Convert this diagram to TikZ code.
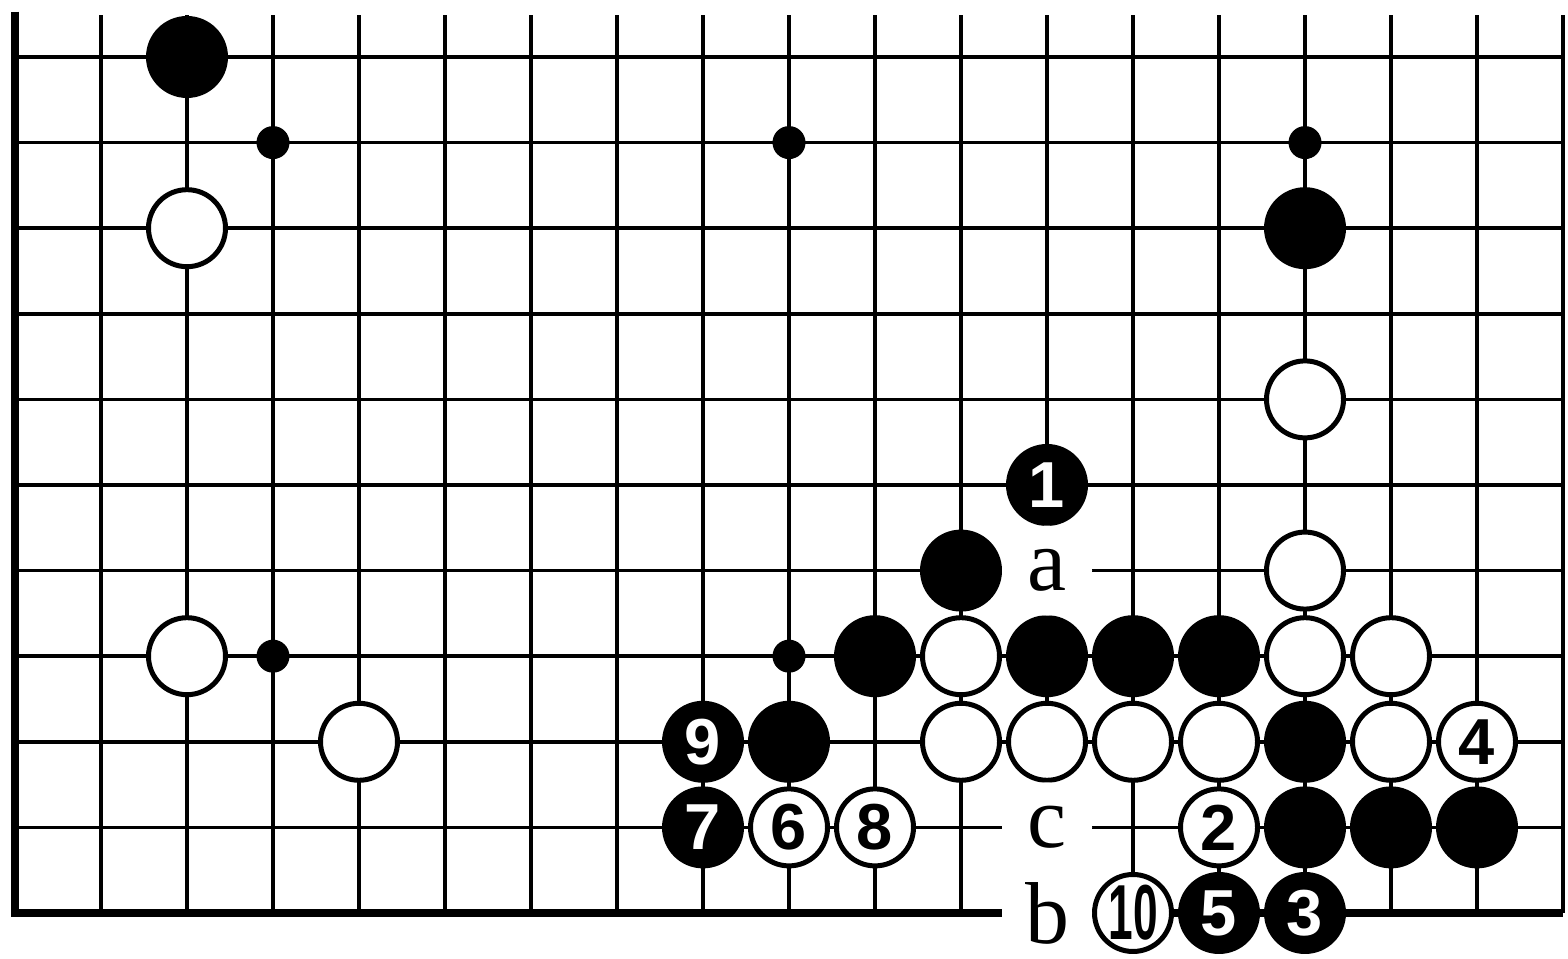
\documentclass[tikz,border=0pt]{standalone}
\usepackage{fontspec}
\usepackage{graphicx}
\usepackage{tikz}
\usetikzlibrary{positioning}
\newfontfamily\numfont{Liberation Sans}
\newfontfamily\letterfont{Liberation Serif}
\newcommand{\movefont}{\numfont\bfseries\fontsize{37}{37}\selectfont}
\newcommand{\pointfont}{\letterfont\fontsize{50}{50}\selectfont}

\begin{document}
\begin{tikzpicture}[
  x=1.72cm, y=1.712cm,
  gridline/.style={line width=0.072cm},
  edgeline/.style={line width=0.16cm,line join=miter},
  blackstone/.style={circle,fill=black,minimum size=1.64cm,inner sep=0pt,
                     text=white,font=\movefont},
  whitestone/.style={circle,draw=black,fill=white,line width=0.1cm,
                     minimum size=1.54cm,inner sep=0pt,font=\movefont},
  starpoint/.style={circle,fill=black,minimum size=0.66cm,inner sep=0pt},
  pointlabel/.style={circle,fill=white,minimum size=1.8cm,inner sep=0pt,
                     font=\pointfont}
]
  \useasboundingbox (-0.30cm,-0.92cm) rectangle (31.06cm,18.26cm);
  % board
  \foreach \row in {0,...,10}
    \draw[gridline] (0,\row) -- (18,\row);
  \foreach \col in {1,...,18}
    \draw[gridline] (\col,0) -- (\col,10.49);
  \draw[edgeline] (0,10.53) -- (0,0) -- (18,0);
  \foreach \c/\r in {3/9,9/9,15/9,3/3,9/3}
    \node[starpoint] (star-\c-\r) at (\c,\r) {};
  % stones on the board
  \foreach \c/\r in {2/10,15/8,11/4,10/3,12/3,13/3,14/3,9/2,15/2,15/1,16/1,17/1}
    \node[blackstone] (b-\c-\r) at (\c,\r) {};
  \foreach \c/\r in {2/8,15/6,15/4,2/3,11/3,15/3,16/3,4/2,11/2,12/2,13/2,14/2,16/2}
    \node[whitestone] (w-\c-\r) at (\c,\r) {};
  % moves
  \node[blackstone] (m1) at (12,5) {1};
  \node[whitestone] (m2) at (14,1) {2};
  \node[blackstone] (m3) at (15,0) {3};
  \node[whitestone] (m4) at (17,2) {4};
  \node[blackstone] (m5) at (14,0) {5};
  \node[whitestone] (m6) at (9,1) {6};
  \node[blackstone] (m7) at (8,1) {7};
  \node[whitestone] (m8) at (10,1) {8};
  \node[blackstone] (m9) at (8,2) {9};
  \node[whitestone] (m10) at (13,0) {\scalebox{0.68}[1.2]{10}};
  % points
  \node[pointlabel] (pa) at (12,4) {a};
  \node[pointlabel] (pc) at (12,1) {c};
  \node[pointlabel] (pb) at (12,0) {b};
\end{tikzpicture}
\end{document}
